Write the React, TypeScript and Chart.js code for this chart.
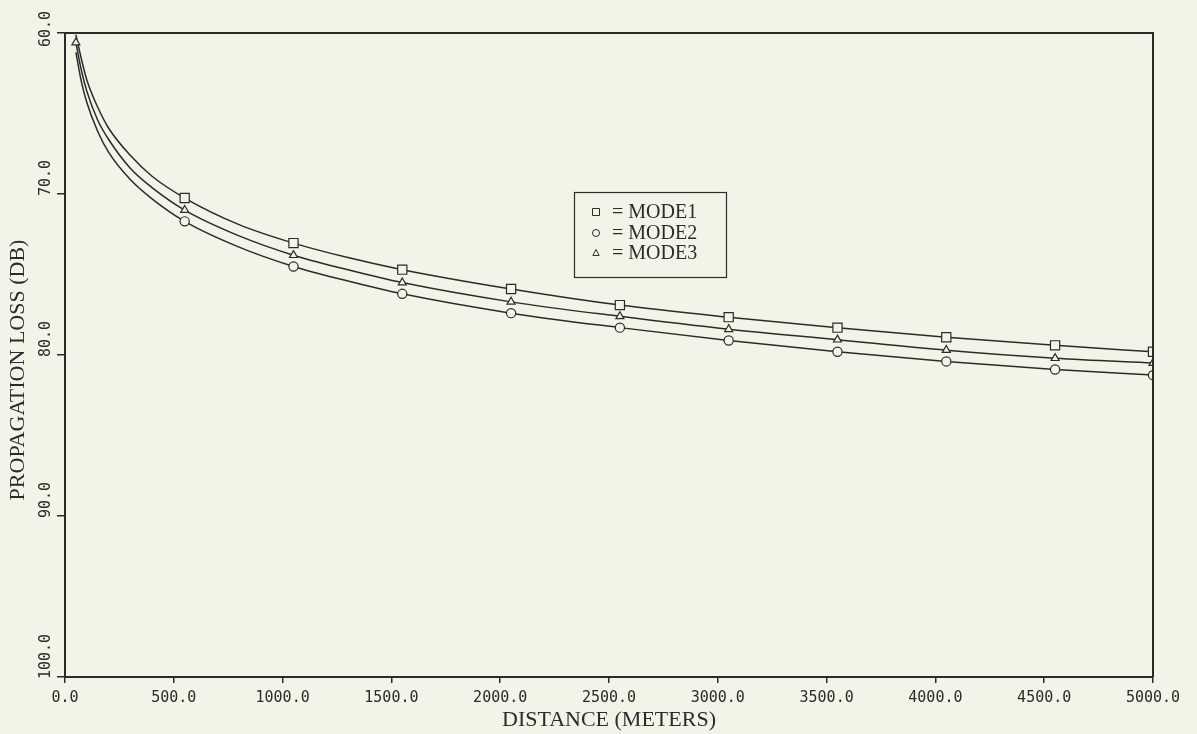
import React, { useEffect, useRef } from 'react';
import { Chart, registerables } from 'chart.js';

Chart.register(...registerables);

// ---- data ----
const distances = [50, 75, 100, 150, 200, 300, 400, 550, 800, 1050, 1300, 1550, 2050, 2550, 3050, 3550, 4050, 4550, 5000];
const mode1Loss = [60.1, 61.6, 62.9, 64.6, 65.9, 67.6, 68.9, 70.25, 71.9, 73.05, 73.95, 74.7, 75.9, 76.9, 77.65, 78.3, 78.9, 79.4, 79.8];
const mode2Loss = [61.2, 63.0, 64.3, 66.1, 67.4, 69.1, 70.3, 71.7, 73.3, 74.5, 75.4, 76.2, 77.4, 78.3, 79.1, 79.8, 80.4, 80.9, 81.25];
const mode3Loss = [60.6, 62.3, 63.6, 65.4, 66.6, 68.4, 69.6, 71.0, 72.6, 73.8, 74.7, 75.5, 76.7, 77.6, 78.4, 79.05, 79.7, 80.2, 80.5];
const mode1Markers = [550, 1050, 1550, 2050, 2550, 3050, 3550, 4050, 4550, 5000];
const mode2Markers = [550, 1050, 1550, 2050, 2550, 3050, 3550, 4050, 4550, 5000];
const mode3Markers = [50, 550, 1050, 1550, 2050, 2550, 3050, 3550, 4050, 4550, 5000];
const seriesLabels = ['MODE1', 'MODE2', 'MODE3'];
const xTickLabels = ['0.0', '500.0', '1000.0', '1500.0', '2000.0', '2500.0', '3000.0', '3500.0', '4000.0', '4500.0', '5000.0'];
const yTickValues = [60, 70, 80, 90, 100];
const yTickLabels = ['60.0', '70.0', '80.0', '90.0', '100.0'];
const xTitle = 'DISTANCE (METERS)';
const yTitle = 'PROPAGATION LOSS (DB)';

const BG = '#f3f4e7';
const INK = '#2b2b2b';
const TICK_FONT = '"DejaVu Sans Mono", monospace';
const SERIF = '"Liberation Serif", "DejaVu Serif", serif';

const pointStyles = ['rect', 'circle', 'triangle'] as const;
const pointRadii = [6.5, 4.6, 4.6];

function linePoints(values: number[]) {
  return distances.map((d, i) => ({ x: d, y: values[i] }));
}
function markerPoints(values: number[], at: number[]) {
  return at.map((d) => ({ x: d, y: values[distances.indexOf(d)] }));
}

function drawSymbol(ctx: CanvasRenderingContext2D, style: string, x: number, y: number, r: number) {
  ctx.beginPath();
  if (style === 'rect') {
    ctx.rect(x - r, y - r, 2 * r, 2 * r);
  } else if (style === 'circle') {
    ctx.arc(x, y, r, 0, Math.PI * 2);
  } else {
    ctx.moveTo(x, y - r);
    ctx.lineTo(x + r * 0.9, y + r * 0.7);
    ctx.lineTo(x - r * 0.9, y + r * 0.7);
    ctx.closePath();
  }
  ctx.stroke();
}

const paperPlugin = {
  id: 'paperDecor',
  beforeDraw(chart: any) {
    const { ctx, width, height } = chart;
    ctx.save();
    ctx.fillStyle = BG;
    ctx.fillRect(0, 0, width, height);
    ctx.restore();
  },
  afterDraw(chart: any) {
    const { ctx, chartArea } = chart;
    const ys = chart.scales.y;
    ctx.save();
    // frame (top and right sides)
    ctx.strokeStyle = INK;
    ctx.lineWidth = 2;
    ctx.beginPath();
    ctx.moveTo(chartArea.left, chartArea.top);
    ctx.lineTo(chartArea.right, chartArea.top);
    ctx.lineTo(chartArea.right, chartArea.bottom);
    ctx.stroke();

    // rotated y tick labels (reading upward from the tick, kept inside the page)
    ctx.fillStyle = INK;
    ctx.font = `15px ${TICK_FONT}`;
    ys.ticks.forEach((t: any) => {
      const idx = yTickValues.indexOf(Math.round(t.value));
      if (idx < 0) return;
      const label = yTickLabels[idx];
      const w = ctx.measureText(label).width;
      const py = ys.getPixelForValue(t.value);
      const start = Math.max(py + 2, 11 + w);
      ctx.save();
      ctx.translate(46, start);
      ctx.rotate(-Math.PI / 2);
      ctx.textAlign = 'left';
      ctx.textBaseline = 'middle';
      ctx.fillText(label, 0, 0);
      ctx.restore();
    });

    // y title
    ctx.save();
    ctx.font = `22px ${SERIF}`;
    ctx.translate(18, 370);
    ctx.rotate(-Math.PI / 2);
    ctx.textAlign = 'center';
    ctx.textBaseline = 'middle';
    ctx.fillText(yTitle, 0, 0);
    ctx.restore();

    // legend box
    const bx = 574, by = 192, bw = 152, bh = 85;
    ctx.lineWidth = 1.2;
    ctx.strokeStyle = INK;
    ctx.strokeRect(bx + 0.5, by + 0.5, bw, bh);
    const rows = [212, 233, 253];
    ctx.font = `20px ${SERIF}`;
    ctx.textBaseline = 'middle';
    ctx.textAlign = 'left';
    ctx.lineWidth = 1;
    seriesLabels.forEach((lab, i) => {
      drawSymbol(ctx, pointStyles[i], 596, rows[i], 3.5);
      ctx.fillText('= ' + lab, 612, rows[i] + 1);
    });
    ctx.restore();
  },
};

export default function App() {
  const ref = useRef<HTMLCanvasElement | null>(null);

  useEffect(() => {
    if (!ref.current) return;
    const series = [mode1Loss, mode2Loss, mode3Loss];
    const markerAt = [mode1Markers, mode2Markers, mode3Markers];
    const lineSets = series.map((vals, i) => ({
      label: seriesLabels[i] + ' curve',
      data: linePoints(vals),
      borderColor: INK,
      borderWidth: 1.5,
      pointRadius: 0,
      cubicInterpolationMode: 'monotone' as const,
      fill: false,
      order: 2,
    }));
    const markerSets = series.map((vals, i) => ({
      label: seriesLabels[i],
      data: markerPoints(vals, markerAt[i]),
      showLine: false,
      pointStyle: pointStyles[i],
      pointRadius: pointRadii[i],
      pointBorderWidth: 1.2,
      pointBorderColor: INK,
      pointBackgroundColor: BG,
      order: 1,
    }));

    const chart = new Chart(ref.current, {
      type: 'line',
      data: { datasets: [...lineSets, ...markerSets] as any },
      options: {
        animation: false,
        responsive: false,
        devicePixelRatio: 1,
        layout: { padding: { top: 33, right: 44, left: 0, bottom: 0 } },
        plugins: { legend: { display: false }, tooltip: { enabled: false } },
        scales: {
          x: {
            type: 'linear',
            min: 0,
            max: 5000,
            ticks: {
              stepSize: 500,
              color: INK,
              font: { family: TICK_FONT, size: 15 },
              padding: 6,
              maxRotation: 0,
              callback: (v: any) => xTickLabels[Math.round(Number(v) / 500)] ?? '',
            },
            grid: { drawOnChartArea: false, drawTicks: true, tickLength: 6, color: INK, lineWidth: 1.5 },
            border: { display: true, color: INK, width: 2 },
            title: {
              display: true,
              text: xTitle,
              color: INK,
              font: { family: SERIF, size: 22 },
              padding: { top: 0, bottom: 1 },
            },
            afterFit: (s: any) => { s.height = 57; },
          },
          y: {
            type: 'linear',
            reverse: true,
            min: 60,
            max: 100,
            ticks: { stepSize: 10, display: false },
            grid: { drawOnChartArea: false, drawTicks: true, tickLength: 8, color: INK, lineWidth: 1.5 },
            border: { display: true, color: INK, width: 2 },
            afterFit: (s: any) => { s.width = 65; },
          },
        },
      },
      plugins: [paperPlugin],
    });
    return () => chart.destroy();
  }, []);

  return (
    <div style={{ position: 'fixed', left: 0, top: 0, width: 1197, height: 734, background: BG }}>
      <canvas ref={ref} width={1197} height={734} style={{ display: 'block' }} />
    </div>
  );
}
